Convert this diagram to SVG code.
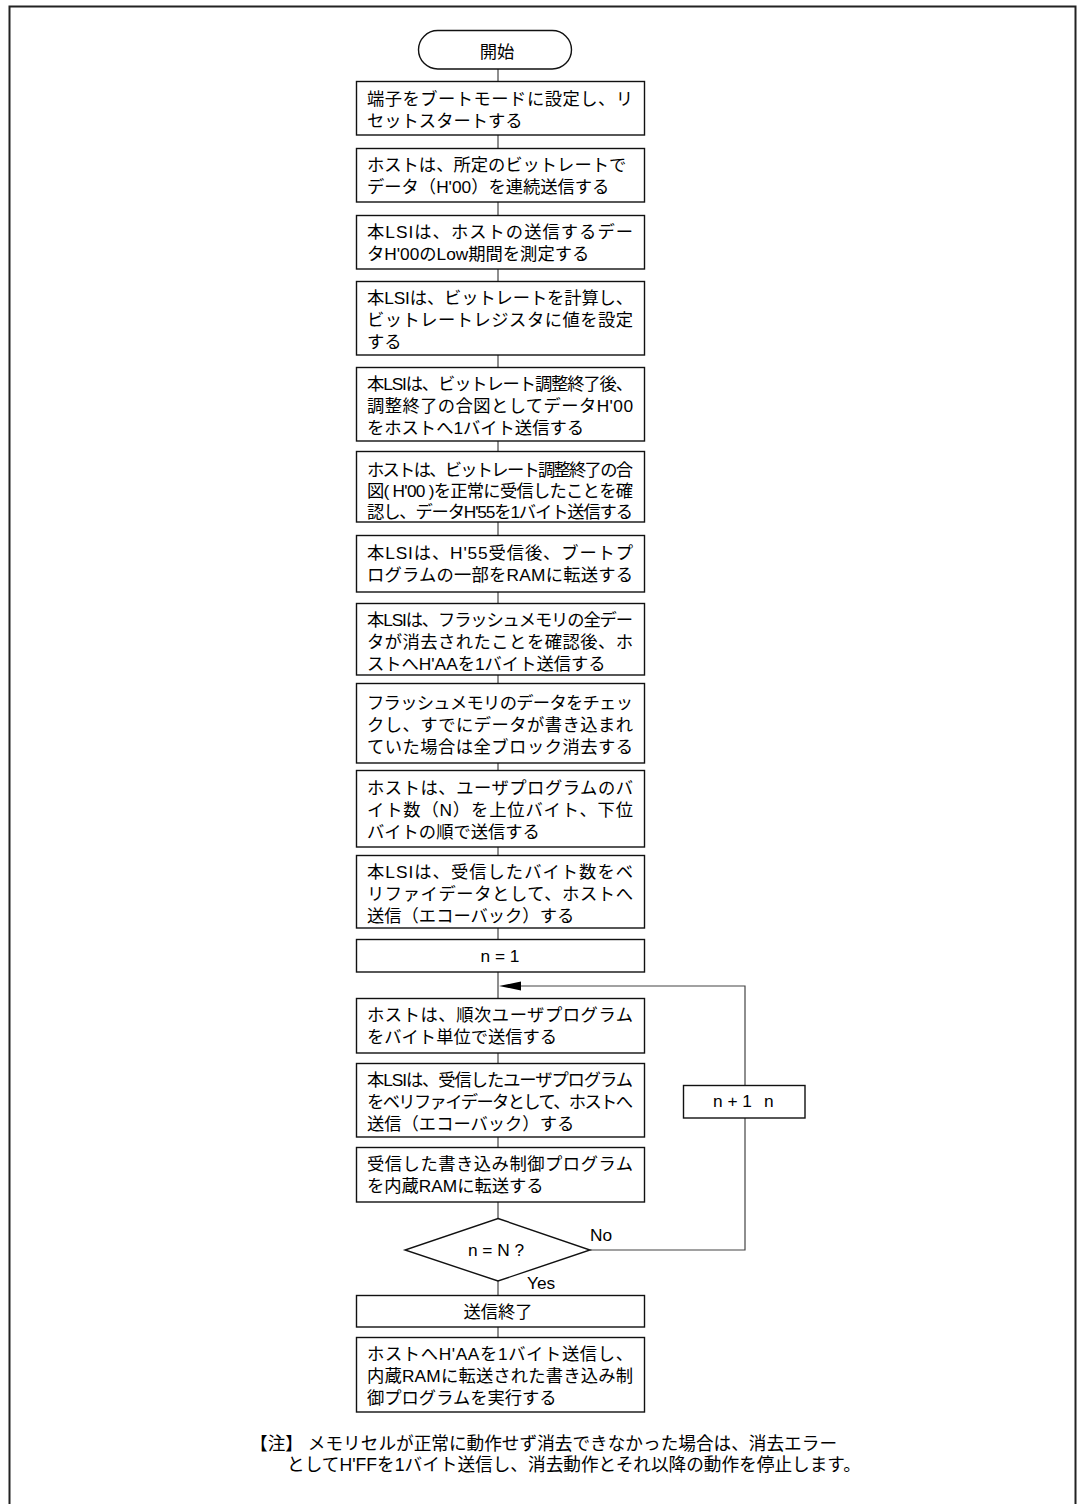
<svg xmlns="http://www.w3.org/2000/svg" width="1077" height="1504" viewBox="0 0 1077 1504">
<defs>
<style>
.t{font-family:"Liberation Sans","Noto Sans CJK JP",sans-serif;font-size:17.3px;fill:#000}
.c{text-anchor:middle}
.nt{font-size:17.65px}
.b{fill:#fff;stroke:#111;stroke-width:1.4}
.ln{fill:none;stroke:#444;stroke-width:1.2}
</style>
</defs>
<rect x="0" y="0" width="1077" height="1504" fill="#fff"/>
<path d="M9.5,1504 V6.5 H1075.5 V1504" fill="none" stroke="#222" stroke-width="2"/>

<g id="connectors">
<path class="ln" d="M498,69 V81 M498,135 V148 M498,202 V215 M498,269 V281 M498,355 V367 M498,441 V451 M498,522 V535 M498,592 V603 M498,675 V683 M498,763 V770 M498,847 V855 M498,928 V939 M498,972 V998 M498,1053 V1063 M498,1137 V1147 M498,1202 V1218 M498,1281 V1295 M498,1327 V1337"/>
<path class="ln" d="M590,1250 H745 V1118 M745,1085 V986 H520"/>
<path d="M499,986 L521,981.5 L521,990.5 Z" fill="#000"/>
</g>

<g id="start">
<rect class="b" x="418.5" y="30.5" width="153" height="38.5" rx="19.25"/>
<text class="t c" x="497" y="58">開始</text>
</g>

<g id="n1">
<rect class="b" x="356.5" y="81.5" width="288" height="53.5"/>
<text class="t" x="367" y="105" textLength="266">端子をブートモードに設定し、リ</text>
<text class="t" x="367" y="127">セットスタートする</text>
</g>

<g id="n2">
<rect class="b" x="356.5" y="148.5" width="288" height="53.5"/>
<text class="t" x="367" y="171">ホストは、所定のビットレートで</text>
<text class="t" x="367" y="193">データ（H'00）を連続送信する</text>
</g>

<g id="n3">
<rect class="b" x="356.5" y="215.5" width="288" height="53.5"/>
<text class="t" x="367" y="238" textLength="266">本LSIは、ホストの送信するデー</text>
<text class="t" x="367" y="260">タH'00のLow期間を測定する</text>
</g>

<g id="n4">
<rect class="b" x="356.5" y="281.5" width="288" height="73.5"/>
<text class="t" x="367" y="304" textLength="266">本LSIは、ビットレートを計算し、</text>
<text class="t" x="367" y="326" textLength="266">ビットレートレジスタに値を設定</text>
<text class="t" x="367" y="348">する</text>
</g>

<g id="n5">
<rect class="b" x="356.5" y="367.5" width="288" height="73.5"/>
<text class="t" x="367" y="390" textLength="266">本LSIは、ビットレート調整終了後、</text>
<text class="t" x="367" y="412" textLength="266">調整終了の合図としてデータH'00</text>
<text class="t" x="367" y="434">をホストへ1バイト送信する</text>
</g>

<g id="n6">
<rect class="b" x="356.5" y="451.5" width="288" height="70.5"/>
<text class="t" x="367" y="476" textLength="266">ホストは、ビットレート調整終了の合</text>
<text class="t" x="367" y="497" textLength="266">図( H'00 )を正常に受信したことを確</text>
<text class="t" x="367" y="518" textLength="266">認し、データH'55を1バイト送信する</text>
</g>

<g id="n7">
<rect class="b" x="356.5" y="535.5" width="288" height="56.5"/>
<text class="t" x="367" y="559" textLength="266">本LSIは、H'55受信後、ブートプ</text>
<text class="t" x="367" y="581" textLength="266">ログラムの一部をRAMに転送する</text>
</g>

<g id="n8">
<rect class="b" x="356.5" y="603.5" width="288" height="71.5"/>
<text class="t" x="367" y="626" textLength="266">本LSIは、フラッシュメモリの全デー</text>
<text class="t" x="367" y="648" textLength="266">タが消去されたことを確認後、ホ</text>
<text class="t" x="367" y="670">ストへH'AAを1バイト送信する</text>
</g>

<g id="n9">
<rect class="b" x="356.5" y="683.5" width="288" height="79.5"/>
<text class="t" x="367" y="709" textLength="266">フラッシュメモリのデータをチェッ</text>
<text class="t" x="367" y="731" textLength="266">クし、すでにデータが書き込まれ</text>
<text class="t" x="367" y="753" textLength="266">ていた場合は全ブロック消去する</text>
</g>

<g id="n10">
<rect class="b" x="356.5" y="770.5" width="288" height="76.5"/>
<text class="t" x="367" y="794" textLength="266">ホストは、ユーザプログラムのバ</text>
<text class="t" x="367" y="816" textLength="266">イト数（N）を上位バイト、下位</text>
<text class="t" x="367" y="838">バイトの順で送信する</text>
</g>

<g id="n11">
<rect class="b" x="356.5" y="855.5" width="288" height="72.5"/>
<text class="t" x="367" y="878" textLength="266">本LSIは、受信したバイト数をベ</text>
<text class="t" x="367" y="900" textLength="266">リファイデータとして、ホストへ</text>
<text class="t" x="367" y="922">送信（エコーバック）する</text>
</g>

<g id="n12">
<rect class="b" x="356.5" y="939.5" width="288" height="32.5"/>
<text class="t c" x="500" y="962">n = 1</text>
</g>

<g id="n13">
<rect class="b" x="356.5" y="998.5" width="288" height="54.5"/>
<text class="t" x="367" y="1021" textLength="266">ホストは、順次ユーザプログラム</text>
<text class="t" x="367" y="1043">をバイト単位で送信する</text>
</g>

<g id="n14">
<rect class="b" x="356.5" y="1063.5" width="288" height="73.5"/>
<text class="t" x="367" y="1086" textLength="266">本LSIは、受信したユーザプログラム</text>
<text class="t" x="367" y="1108" textLength="266">をベリファイデータとして、ホストへ</text>
<text class="t" x="367" y="1130">送信（エコーバック）する</text>
</g>

<g id="n15">
<rect class="b" x="356.5" y="1147.5" width="288" height="54.5"/>
<text class="t" x="367" y="1170" textLength="266">受信した書き込み制御プログラム</text>
<text class="t" x="367" y="1192">を内蔵RAMに転送する</text>
</g>

<g id="n16">
<path class="b" d="M498,1218.5 L590,1250 L498,1281 L405,1250 Z"/>
<text class="t c" x="496" y="1256">n = N ?</text>
</g>

<g id="n17">
<rect class="b" x="683.5" y="1085.5" width="121.5" height="32.5"/>
<text class="t" x="713" y="1107">n + 1<tspan x="764">n</tspan></text>
</g>

<text class="t" x="590" y="1241">No</text>
<text class="t" x="527" y="1289">Yes</text>

<g id="n18">
<rect class="b" x="356.5" y="1295.5" width="288" height="31.5"/>
<text class="t c" x="498" y="1318">送信終了</text>
</g>

<g id="n19">
<rect class="b" x="356.5" y="1337.5" width="288" height="74.5"/>
<text class="t" x="367" y="1360" textLength="266">ホストへH'AAを1バイト送信し、</text>
<text class="t" x="367" y="1382" textLength="266">内蔵RAMに転送された書き込み制</text>
<text class="t" x="367" y="1404">御プログラムを実行する</text>
</g>

<g id="note">
<text class="t nt" x="250" y="1450">【注】 メモリセルが正常に動作せず消去できなかった場合は、消去エラー</text>
<text class="t nt" x="287" y="1471">としてH'FFを1バイト送信し、消去動作とそれ以降の動作を停止します。</text>
</g>
</svg>
